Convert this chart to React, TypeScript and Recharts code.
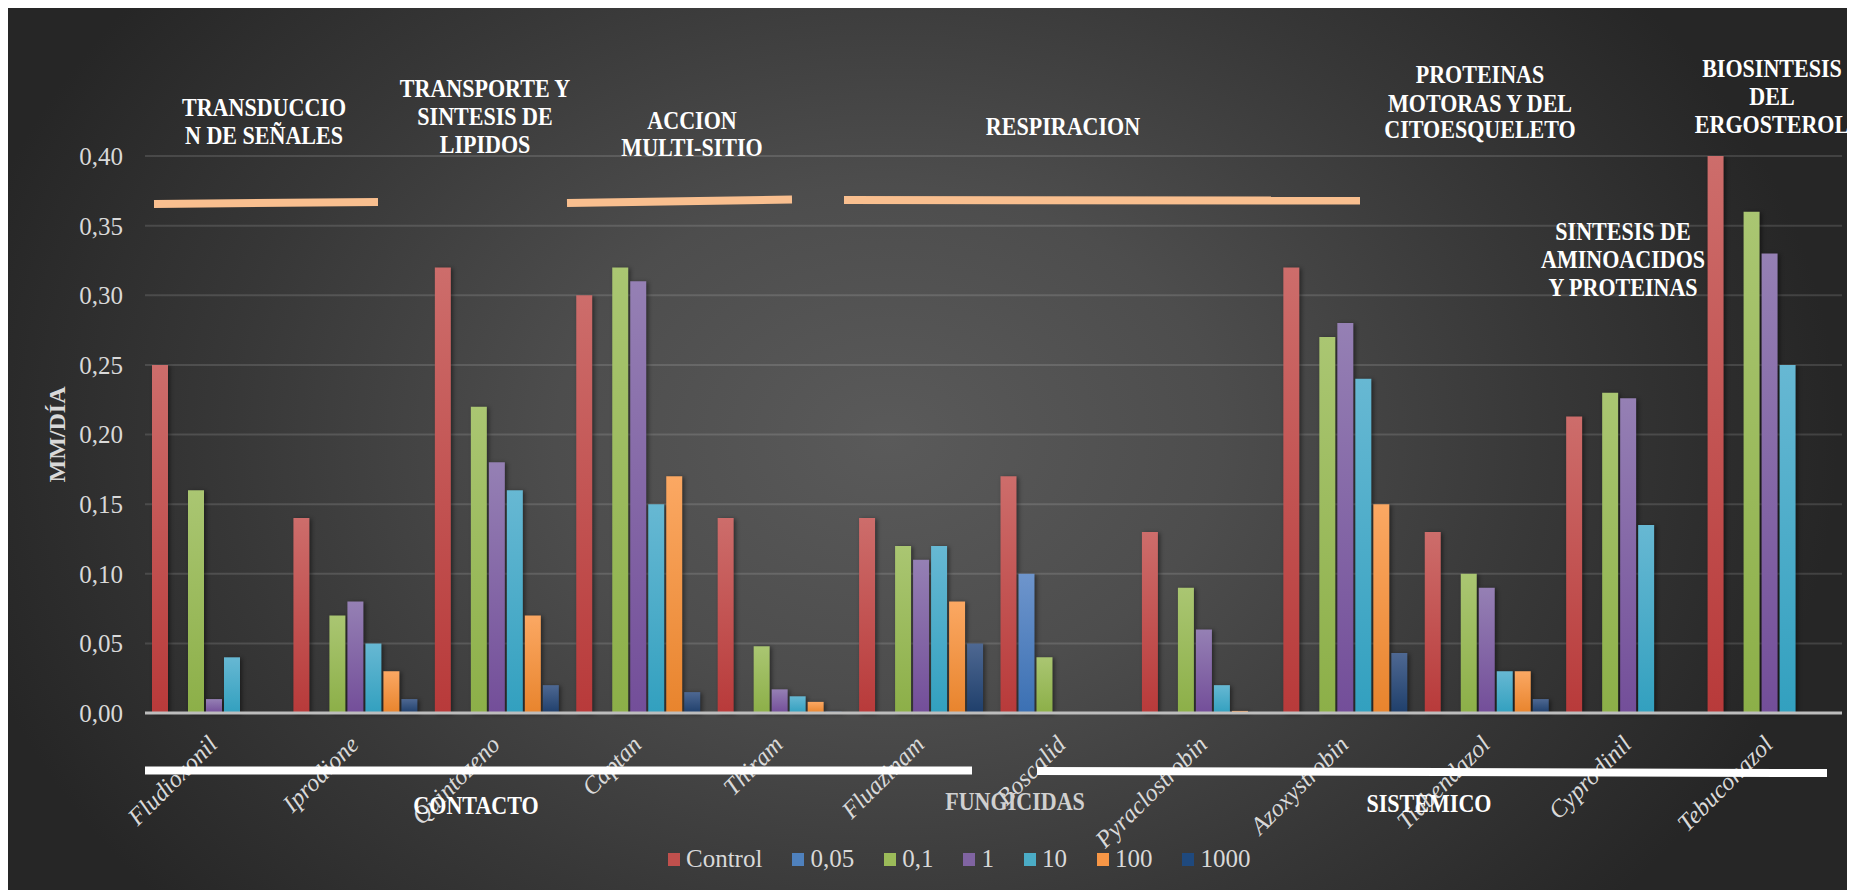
import React from 'react';
import { BarChart, Bar, XAxis, YAxis, CartesianGrid, Legend } from 'recharts';

const categories = ['Fludioxonil', 'Iprodione', 'Quintozeno', 'Captan', 'Thiram', 'Fluazinam', 'Boscalid', 'Pyraclostrobin', 'Azoxystrobin', 'Tiabendazol', 'Cyprodinil', 'Tebuconazol'];
const control = [0.25, 0.14, 0.32, 0.30, 0.14, 0.14, 0.17, 0.13, 0.32, 0.13, 0.213, 0.40];
const dose005 = [null, null, null, null, null, null, 0.10, null, null, null, null, null];
const dose01 = [0.16, 0.07, 0.22, 0.32, 0.048, 0.12, 0.04, 0.09, 0.27, 0.10, 0.23, 0.36];
const dose1 = [0.01, 0.08, 0.18, 0.31, 0.017, 0.11, null, 0.06, 0.28, 0.09, 0.226, 0.33];
const dose10 = [0.04, 0.05, 0.16, 0.15, 0.012, 0.12, null, 0.02, 0.24, 0.03, 0.135, 0.25];
const dose100 = [null, 0.03, 0.07, 0.17, 0.008, 0.08, null, 0.0015, 0.15, 0.03, null, null];
const dose1000 = [null, 0.01, 0.02, 0.015, 0.001, 0.05, null, null, 0.043, 0.01, null, null];

const seriesNames = ['Control', '0,05', '0,1', '1', '10', '100', '1000'];
const seriesValues = [control, dose005, dose01, dose1, dose10, dose100, dose1000];
const seriesColors = ['#C0504D', '#4F81BD', '#9BBB59', '#8064A2', '#4BACC6', '#F79646', '#1F497D'];
const gradTop = ['#CD6D6B', '#6E95CC', '#AAC672', '#9580B4', '#67B8D3', '#FBA863', '#4E6892'];
const gradBottom = ['#B83A3A', '#3B70B3', '#8CAF48', '#734E99', '#32A0BF', '#E8842D', '#1F3F6B'];
const yTicks = [0, 0.05, 0.1, 0.15, 0.2, 0.25, 0.3, 0.35, 0.4];

const data = categories.map((name, i) => {
  const row: Record<string, any> = { name };
  seriesValues.forEach((arr, k) => { row['s' + k] = arr[i]; });
  return row;
});

const FONT = '"Liberation Serif", "Times New Roman", serif';

const CatTick = (props: any) => {
  const { x, y, payload } = props;
  const tx = x + 3;
  const ty = y + 33;
  return (
    <text x={tx} y={ty} transform={`rotate(-45 ${tx} ${ty})`} textAnchor="end" fontStyle="italic" fontSize={24.5} fill="#d9d9d9" fontFamily={FONT}>
      {payload.value}
    </text>
  );
};

const YTitle = (props: any) => {
  const vb = props.viewBox || {};
  const cx = (vb.x || 0) + 49;
  const cy = (vb.y || 0) + (vb.height || 0) / 2;
  return (
    <text x={cx} y={cy} transform={`rotate(-90 ${cx} ${cy})`} textAnchor="middle" dominantBaseline="central" fontWeight="bold" fontSize={24} fill="#d9d9d9" fontFamily={FONT}>
      MM/DÍA
    </text>
  );
};

const renderLegend = () => (
  <div style={{ display: 'flex', alignItems: 'center', fontFamily: FONT, fontSize: 25, color: '#d9d9d9', whiteSpace: 'nowrap', lineHeight: '26px' }}>
    {seriesNames.map((n, i) => (
      <span key={n} style={{ display: 'flex', alignItems: 'center', marginRight: 30 }}>
        <span style={{ width: 12, height: 13, background: seriesColors[i], marginRight: 6, display: 'inline-block' }} />
        {n}
      </span>
    ))}
  </div>
);

type Ann = { x: number; ys: number[]; lines: string[] };
const annotations: Ann[] = [
  { x: 256, ys: [108, 136], lines: ['TRANSDUCCIO', 'N DE SEÑALES'] },
  { x: 477, ys: [89, 117, 145], lines: ['TRANSPORTE Y', 'SINTESIS DE', 'LIPIDOS'] },
  { x: 684, ys: [121, 148], lines: ['ACCION', 'MULTI-SITIO'] },
  { x: 1055, ys: [127], lines: ['RESPIRACION'] },
  { x: 1472, ys: [75, 104, 130], lines: ['PROTEINAS', 'MOTORAS Y DEL', 'CITOESQUELETO'] },
  { x: 1764, ys: [69, 97, 125], lines: ['BIOSINTESIS', 'DEL', 'ERGOSTEROL'] },
  { x: 1615, ys: [232, 260, 288], lines: ['SINTESIS DE', 'AMINOACIDOS', 'Y PROTEINAS'] },
];

const SX = 0.9;

const CondText = ({ x, y, fill, children }: any) => (
  <text transform={`translate(${x} ${y}) scale(${SX} 1)`} x={0} y={0} textAnchor="middle" fontWeight="bold" fontSize={24.5} fill={fill} fontFamily={FONT}>
    {children}
  </text>
);

export default function App() {
  const W = 1847;
  const H = 882;
  return (
    <div style={{ position: 'relative', width: W, height: H, background: 'radial-gradient(ellipse 950px 720px at 880px 430px, #5a5a5a 0%, #4d4d4d 35%, #373737 70%, #262626 100%)' }}>
      <BarChart width={W} height={H} data={data} margin={{ top: 148, right: 13, left: 0, bottom: 117 }} barCategoryGap={7} barGap={2}>
        <defs>
          {seriesColors.map((c, i) => (
            <linearGradient key={i} id={'g' + i} x1="0" y1="0" x2="0" y2="1">
              <stop offset="0%" stopColor={gradTop[i]} />
              <stop offset="100%" stopColor={gradBottom[i]} />
            </linearGradient>
          ))}
        </defs>
        <CartesianGrid vertical={false} stroke="#ffffff" strokeOpacity={0.13} strokeWidth={2} />
        <YAxis
          width={137}
          domain={[0, 0.4]}
          ticks={yTicks}
          interval={0}
          tickSize={0}
          tickMargin={22}
          axisLine={false}
          tickLine={false}
          tick={{ fill: '#d9d9d9', fontSize: 25, fontFamily: FONT }}
          tickFormatter={(v: number) => v.toFixed(2).replace('.', ',')}
          label={<YTitle />}
        />
        <XAxis
          dataKey="name"
          height={60}
          interval={0}
          tickSize={0}
          tickMargin={0}
          tickLine={false}
          axisLine={{ stroke: '#bdbdbd', strokeWidth: 3 }}
          tick={<CatTick />}
        />
        {seriesNames.map((n, i) => (
          <Bar key={n} dataKey={'s' + i} name={n} fill={'url(#g' + i + ')'} isAnimationActive={false} style={{ filter: 'drop-shadow(2px 1px 2px rgba(0,0,0,0.45))' }} />
        ))}
        <Legend layout="horizontal" verticalAlign="middle" align="center" content={renderLegend} wrapperStyle={{ left: 660, top: 838, width: 660, height: 26 }} />
      </BarChart>
      <svg width={W} height={H} style={{ position: 'absolute', left: 0, top: 0, pointerEvents: 'none' }}>
        <g stroke="#F9BF8F" strokeWidth={8}>
          <line x1={146} y1={196} x2={370} y2={194} />
          <line x1={559} y1={195} x2={784} y2={191.5} />
          <line x1={836} y1={192} x2={1352} y2={192.5} />
        </g>
        <g stroke="#ffffff" strokeWidth={8}>
          <line x1={137} y1={762.5} x2={964} y2={762.5} />
          <line x1={1029} y1={763} x2={1819} y2={765} />
        </g>
        {annotations.map((a, i) => (
          <g key={i}>
            {a.lines.map((l, j) => (
              <CondText key={j} x={a.x} y={a.ys[j]} fill="#ffffff">{l}</CondText>
            ))}
          </g>
        ))}
        <CondText x={468} y={806} fill="#ffffff">CONTACTO</CondText>
        <CondText x={1007} y={802} fill="#d0d0d0">FUNGICIDAS</CondText>
        <CondText x={1421} y={804} fill="#ffffff">SISTEMICO</CondText>
      </svg>
    </div>
  );
}
